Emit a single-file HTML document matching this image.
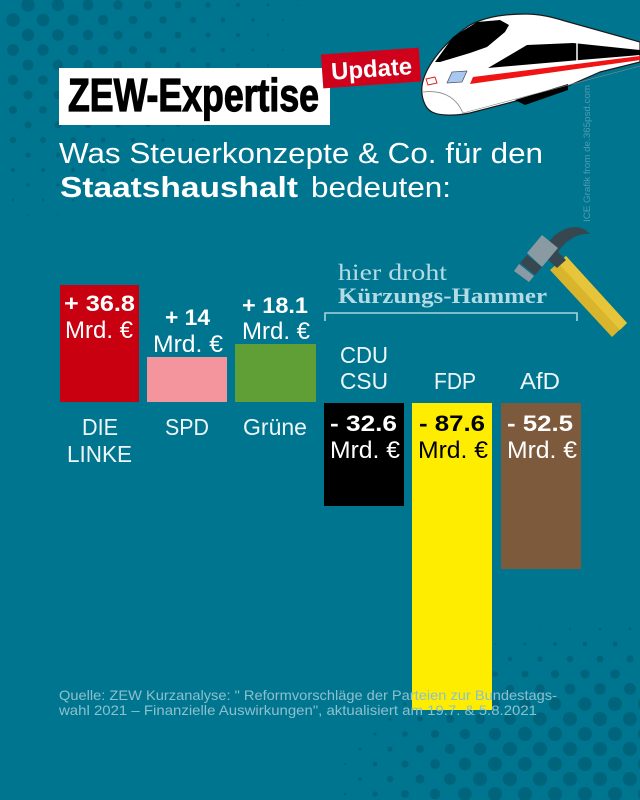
<!DOCTYPE html>
<html><head><meta charset="utf-8"><style>
html,body{margin:0;padding:0;background:#00758f;}
svg{display:block;font-family:"Liberation Sans",sans-serif;}
.w{fill:#ffffff;}
.lb{fill:#eef6f8;font-size:23px;}
.v{font-weight:bold;font-size:22px;}
.m{font-size:24px;}
.sf{font-family:"Liberation Serif",serif;fill:#b3dbe5;}
</style></head><body>
<svg width="640" height="800" viewBox="0 0 640 800" xmlns="http://www.w3.org/2000/svg">
<rect x="0" y="0" width="640" height="800" fill="#00758f"/>
<g id="dots" fill="#00647c"></g>

<!-- credit -->
<text transform="translate(590,222) rotate(-90)" font-size="9" fill="#4f9cb0" textLength="137" lengthAdjust="spacingAndGlyphs">ICE Grafik from de.365psd.com</text>

<!-- title box -->
<rect x="59" y="68" width="271" height="57" fill="#ffffff"/>
<text x="68" y="111" font-size="46" font-weight="bold" fill="#000" stroke="#000" stroke-width="1.2" textLength="251" lengthAdjust="spacingAndGlyphs">ZEW-Expertise</text>

<!-- update tag -->
<g transform="rotate(-4 371 68)">
<rect x="322" y="51" width="98" height="34" fill="#d0021b"/>
<text x="331" y="77" font-size="24" font-weight="bold" fill="#fff" textLength="81" lengthAdjust="spacingAndGlyphs">Update</text>
</g>

<!-- train -->
<g stroke-linejoin="round">
<path d="M422,86 C424,70 440,45 470,25 C485,17 505,14 525,14 C540,14 552,17 565,21 L640,42 L640,62 L600,72 L568,86 L520,100 L470,113 C455,116 440,116 432,112 C424,108 421,96 422,86 Z" fill="#ffffff" stroke="#1a1a1a" stroke-width="1.2"/>
<path d="M515,100 L568,84 L568,90 L525,105 Z" fill="#000"/>
<path d="M435,62 L453,37 L477,22 L500,20 L509,25 L505,32 L487,47 L470,53 L440,62 Z" fill="#000"/>
<path d="M488,68 L527,45 L573,43 L640,50 L640,55 L580,60 Z" fill="#000"/>
<path d="M577,43 L577,62" stroke="#fff" stroke-width="1.5"/>
<path d="M470,84 L473,77 L640,56 L640,60 Z" fill="#f01414"/>
<path d="M426,79 L435,77 L437,83 L428,85 Z" fill="none" stroke="#e02020" stroke-width="1"/>
<path d="M447,83 L452,72 L467,71 L462,82 Z" fill="#a8c8f0" stroke="#556" stroke-width="0.8"/>
<path d="M423,92 C440,90 455,95 463,113" fill="none" stroke="#888" stroke-width="0.8"/>
<path d="M463,113 L640,66" fill="none" stroke="#888" stroke-width="0.6"/>
</g>

<!-- subtitle -->
<text x="59" y="163" font-size="29" class="w" textLength="484" lengthAdjust="spacingAndGlyphs">Was Steuerkonzepte &amp; Co. für den</text>
<text x="60" y="197" font-size="29" font-weight="bold" class="w" textLength="238" lengthAdjust="spacingAndGlyphs">Staatshaushalt</text>
<text x="311" y="197" font-size="29" class="w" textLength="140" lengthAdjust="spacingAndGlyphs">bedeuten:</text>

<!-- hammer -->
<g>
<path d="M550,270 L566,256 L627,323 L612,337 Z" fill="#d8b52c"/>
<path d="M558,263 L566,256 L627,323 L620,330 Z" fill="#e6c53a"/>
<path d="M546,258 L556,250 L566,260 L557,268 Z" fill="#37474f"/>
<path d="M548,243 C560,226 580,222 590,234 C578,233 566,240 558,252 Z" fill="#37474f"/>
<path d="M527,253 L542,235 L558,248 L542,267 Z" fill="#8a9aa3"/>
<path d="M520,263 L527,255 L542,267 L535,275 Z" fill="#37474f"/>
<path d="M514,271 L519,264 L534,276 L529,282 Z" fill="#8a9aa3"/>
</g>

<!-- bracket -->
<text x="338" y="280" font-size="23" class="sf" textLength="109" lengthAdjust="spacingAndGlyphs">hier droht</text>
<text x="338" y="303" font-size="22" font-weight="bold" class="sf" textLength="209" lengthAdjust="spacingAndGlyphs">Kürzungs-Hammer</text>
<path d="M325,321 L325,313 L577,313 L577,321" fill="none" stroke="#a9d4df" stroke-width="1.6"/>

<!-- bars -->
<rect x="60" y="285" width="79" height="117" fill="#c8000f"/>
<rect x="147" y="357" width="80" height="45" fill="#f4959d"/>
<rect x="235" y="344" width="81" height="58" fill="#5f9f36"/>
<rect x="324" y="403" width="80" height="103" fill="#000000"/>
<rect x="412" y="403" width="80" height="307" fill="#ffed00"/>
<rect x="501" y="403" width="80" height="166" fill="#7d5a3c"/>

<!-- values -->
<text x="64" y="311" class="w v" textLength="71" lengthAdjust="spacingAndGlyphs">+ 36.8</text>
<text x="65" y="338" class="w m" textLength="68" lengthAdjust="spacingAndGlyphs">Mrd. €</text>
<text x="165" y="325" class="w v" textLength="45" lengthAdjust="spacingAndGlyphs">+ 14</text>
<text x="153" y="352" class="w m" textLength="70" lengthAdjust="spacingAndGlyphs">Mrd. €</text>
<text x="242" y="313" class="w v" textLength="66" lengthAdjust="spacingAndGlyphs">+ 18.1</text>
<text x="242" y="339" class="w m" textLength="68" lengthAdjust="spacingAndGlyphs">Mrd. €</text>

<text x="330" y="431" class="w v" textLength="67" lengthAdjust="spacingAndGlyphs">- 32.6</text>
<text x="330" y="458" class="w m" textLength="70" lengthAdjust="spacingAndGlyphs">Mrd. €</text>
<text x="419" y="431" class="v" fill="#000" textLength="66" lengthAdjust="spacingAndGlyphs">- 87.6</text>
<text x="418" y="458" class="m" fill="#000" textLength="70" lengthAdjust="spacingAndGlyphs">Mrd. €</text>
<text x="507" y="431" class="w v" textLength="66" lengthAdjust="spacingAndGlyphs">- 52.5</text>
<text x="507" y="458" class="w m" textLength="70" lengthAdjust="spacingAndGlyphs">Mrd. €</text>

<!-- labels -->
<text x="82" y="435" class="lb" textLength="36" lengthAdjust="spacingAndGlyphs">DIE</text>
<text x="67" y="462" class="lb" textLength="65" lengthAdjust="spacingAndGlyphs">LINKE</text>
<text x="165" y="435" class="lb" textLength="44" lengthAdjust="spacingAndGlyphs">SPD</text>
<text x="243" y="435" class="lb" textLength="64" lengthAdjust="spacingAndGlyphs">Grüne</text>
<text x="340" y="363" class="lb" textLength="48" lengthAdjust="spacingAndGlyphs">CDU</text>
<text x="340" y="389" class="lb" textLength="48" lengthAdjust="spacingAndGlyphs">CSU</text>
<text x="434" y="389" class="lb" textLength="42" lengthAdjust="spacingAndGlyphs">FDP</text>
<text x="520" y="389" class="lb" textLength="40" lengthAdjust="spacingAndGlyphs">AfD</text>

<!-- source -->
<text x="59" y="700" font-size="14" fill="#8cc0ce" textLength="498" lengthAdjust="spacingAndGlyphs">Quelle: ZEW Kurzanalyse: " Reformvorschläge der Parteien zur Bundestags-</text>
<text x="59" y="715" font-size="14" fill="#8cc0ce" textLength="478" lengthAdjust="spacingAndGlyphs">wahl 2021 – Finanzielle Auswirkungen", aktualisiert am 19.7. &amp; 5.8.2021</text>
</svg>
<script>
(function(){
var g=document.getElementById('dots'),s='',x,y,d,r,j,k;
for(j=0;j<18;j++){y=5+15*j;for(x=(j%2?13:28);x<345;x+=30){d=Math.sqrt(Math.pow(x/330,2)+Math.pow(y/240,2));r=7.5*(1-d);if(r>0.6)s+='<circle cx="'+x+'" cy="'+y+'" r="'+r.toFixed(1)+'"/>';}}
for(k=0;k<18;k++){y=794-15*k;for(x=(k%2?540:525)-240;x<655;x+=30){d=Math.sqrt(Math.pow((640-x)/360,2)+Math.pow((800-y)/210,2));r=Math.min(7,16*(0.9-d));if(r>0.6)s+='<circle cx="'+x+'" cy="'+y+'" r="'+r.toFixed(1)+'"/>';}}
g.innerHTML=s;
})();
</script>
</body></html>
